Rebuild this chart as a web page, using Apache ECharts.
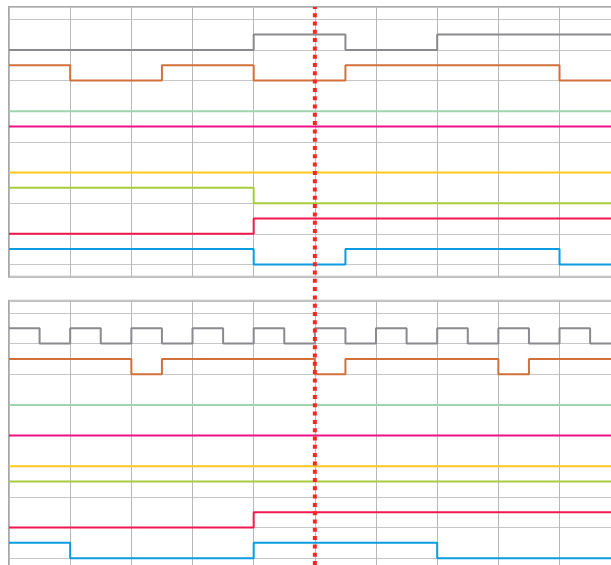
<!DOCTYPE html>
<html>
<head>
<meta charset="utf-8">
<script src="https://cdn.jsdelivr.net/npm/echarts@6/dist/echarts.min.js"></script>
<style>html,body{margin:0;padding:0;background:#fff;}#c{width:611px;height:565px;}</style>
</head>
<body>
<div id="c"></div>
<script>
// Time axis: 0..10, each bit holds for half a unit (20 half-steps)
var signalNames = ['S7', 'S6', 'S5', 'S4', 'S3', 'S2', 'S1', 'S0'];
var signalBases = [7, 6, 5, 4, 3, 2, 1, 0];
var signalColors = ['#8a8a8e', '#d2703c', '#9fd4b0', '#ec1283', '#ffc81e', '#a8cc3c', '#f0184e', '#0a9be0'];
var cursorTime = [5];

// Upper panel bits (per half-step)
var topS7 = [0,0,0,0,0,0,0,0,1,1,1,0,0,0,1,1,1,1,1,1];
var topS6 = [1,1,0,0,0,1,1,1,0,0,0,1,1,1,1,1,1,1,0,0];
var topS5 = [0,0,0,0,0,0,0,0,0,0,0,0,0,0,0,0,0,0,0,0];
var topS4 = [1,1,1,1,1,1,1,1,1,1,1,1,1,1,1,1,1,1,1,1];
var topS3 = [0,0,0,0,0,0,0,0,0,0,0,0,0,0,0,0,0,0,0,0];
var topS2 = [1,1,1,1,1,1,1,1,0,0,0,0,0,0,0,0,0,0,0,0];
var topS1 = [0,0,0,0,0,0,0,0,1,1,1,1,1,1,1,1,1,1,1,1];
var topS0 = [1,1,1,1,1,1,1,1,0,0,0,1,1,1,1,1,1,1,0,0];

// Lower panel bits (per half-step)
var botS7 = [1,0,1,0,1,0,1,0,1,0,1,0,1,0,1,0,1,0,1,0];
var botS6 = [1,1,1,1,0,1,1,1,1,1,0,1,1,1,1,1,0,1,1,1];
var botS5 = [0,0,0,0,0,0,0,0,0,0,0,0,0,0,0,0,0,0,0,0];
var botS4 = [0,0,0,0,0,0,0,0,0,0,0,0,0,0,0,0,0,0,0,0];
var botS3 = [0,0,0,0,0,0,0,0,0,0,0,0,0,0,0,0,0,0,0,0];
var botS2 = [1,1,1,1,1,1,1,1,1,1,1,1,1,1,1,1,1,1,1,1];
var botS1 = [0,0,0,0,0,0,0,0,1,1,1,1,1,1,1,1,1,1,1,1];
var botS0 = [1,1,0,0,0,0,0,0,1,1,1,1,1,1,0,0,0,0,0,0];

var topBits = [topS7, topS6, topS5, topS4, topS3, topS2, topS1, topS0];
var botBits = [botS7, botS6, botS5, botS4, botS3, botS2, botS1, botS0];

function toPoints(bits, base) {
  var pts = [];
  for (var i = 0; i < bits.length; i++) pts.push([i * 0.5, base + 0.5 * bits[i]]);
  pts.push([bits.length * 0.5, base + 0.5 * bits[bits.length - 1]]);
  return pts;
}

var GL = 9, GW = 611.7;
var grids = [
  {left: GL, top: 7, width: GW, height: 269.7, show: true, borderColor: '#aaaaaa', borderWidth: 2, backgroundColor: 'transparent', outerBoundsMode: 'none', containLabel: false},
  {left: GL, top: 300.7, width: GW, height: 269.7, show: true, borderColor: '#aaaaaa', borderWidth: 2, backgroundColor: 'transparent', outerBoundsMode: 'none', containLabel: false},
  {left: GL, top: 7, width: GW, height: 558, show: false, outerBoundsMode: 'none', containLabel: false}
];
function xAx(gi, show) {
  return {type: 'value', gridIndex: gi, min: 0, max: 10, interval: 1,
    axisLine: {show: false}, axisTick: {show: false}, axisLabel: {show: false},
    splitLine: {show: show, lineStyle: {color: '#b8b8b8', width: 1}}};
}
function yAx(gi) {
  return {type: 'value', gridIndex: gi, min: -0.4, max: 8.4, splitNumber: 9, minInterval: 1, maxInterval: 1,
    axisLine: {show: false}, axisTick: {show: false}, axisLabel: {show: false},
    splitLine: {show: true, lineStyle: {color: '#c6c6c6', width: 1}}};
}
var series = [];
[topBits, botBits].forEach(function (panel, pi) {
  panel.forEach(function (bits, k) {
    series.push({type: 'line', name: signalNames[k], xAxisIndex: pi, yAxisIndex: pi,
      step: 'end', symbol: 'none', z: 3,
      lineStyle: {color: signalColors[k], width: 2},
      data: toPoints(bits, signalBases[k])});
  });
});
series.push({type: 'line', xAxisIndex: 2, yAxisIndex: 2, symbol: 'none', z: 10, clip: false,
  lineStyle: {color: '#ff2424', width: 4, type: [4, 4.3]},
  data: [[cursorTime[0], 0], [cursorTime[0], 1]]});

var chart = echarts.init(document.getElementById('c'));
chart.setOption({
  animation: false,
  backgroundColor: '#ffffff',
  grid: grids,
  xAxis: [xAx(0, true), xAx(1, true), xAx(2, false)],
  yAxis: [yAx(0), yAx(1), {type: 'value', gridIndex: 2, min: 0, max: 1, show: false, splitLine: {show: false}}],
  series: series
});
</script>
</body>
</html>
